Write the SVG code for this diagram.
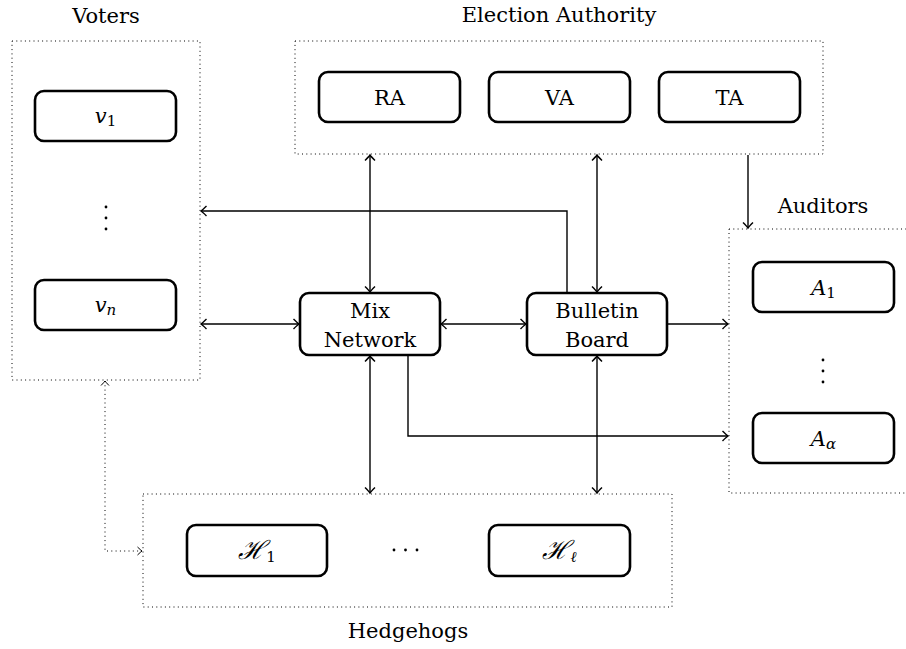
<svg xmlns="http://www.w3.org/2000/svg" width="906" height="649" viewBox="0 0 906 649">
<style>
text{font-family:"DejaVu Serif",serif;font-size:21px;fill:#000;text-anchor:middle}
.m{font-style:italic}
.h{font-style:italic;font-size:26px}
.s{font-size:15px;font-style:normal}
.si{font-size:15px;font-style:italic}
.grp{fill:none;stroke:#000;stroke-width:1;stroke-dasharray:1 3.3}
.node{fill:#fff;stroke:#000;stroke-width:2.6}
.c{fill:none;stroke:#000;stroke-width:1.4}
.cd{fill:none;stroke:#000;stroke-width:1;stroke-dasharray:1 3.3}
</style>
<defs>
<marker id="ah" viewBox="-8 -6 10 12" markerWidth="10" markerHeight="12" refX="0" refY="0" orient="auto-start-reverse" markerUnits="userSpaceOnUse">
<path d="M-5.5,-5 Q-1.5,-1 0,0 Q-1.5,1 -5.5,5" fill="none" stroke="#000" stroke-width="1.4"/>
</marker>
<marker id="ahd" viewBox="-8 -6 10 12" markerWidth="10" markerHeight="12" refX="0" refY="0" orient="auto-start-reverse" markerUnits="userSpaceOnUse">
<path d="M-4.5,-4 Q-1.2,-0.8 0,0 Q-1.2,0.8 -4.5,4" fill="none" stroke="#000" stroke-width="1"/>
</marker>
</defs>
<rect width="906" height="649" fill="#fff"/>
<g id="voters">
<rect class="grp" x="12" y="41" width="188" height="339"/>
<text x="106" y="23">Voters</text>
<circle cx="106" cy="207" r="1.4"/><circle cx="106" cy="218" r="1.4"/><circle cx="106" cy="229" r="1.4"/>
</g>
<g id="v1"><rect class="node" x="35" y="91" width="141" height="50" rx="9"/><text x="105.5" y="123"><tspan class="m">v</tspan><tspan class="s" dy="3">1</tspan></text></g>
<g id="vn"><rect class="node" x="35" y="280" width="141" height="50" rx="9"/><text x="105.5" y="312"><tspan class="m">v</tspan><tspan class="si" dy="3">n</tspan></text></g>

<g id="election-authority">
<rect class="grp" x="295" y="41" width="528" height="113"/>
<text x="559" y="22">Election Authority</text>
</g>
<g id="RA"><rect class="node" x="319" y="72" width="141" height="50" rx="9"/><text x="389.5" y="105">RA</text></g>
<g id="VA"><rect class="node" x="489" y="72" width="141" height="50" rx="9"/><text x="559.5" y="105">VA</text></g>
<g id="TA"><rect class="node" x="659" y="72" width="141" height="50" rx="9"/><text x="729.5" y="105">TA</text></g>

<g id="auditors">
<rect class="grp" x="729" y="229" width="190" height="264"/>
<text x="823" y="213">Auditors</text>
<circle cx="823" cy="360" r="1.4"/><circle cx="823" cy="371" r="1.4"/><circle cx="823" cy="382" r="1.4"/>
</g>
<g id="A1"><rect class="node" x="753" y="262" width="141" height="50" rx="9"/><text x="823.5" y="295"><tspan class="m">A</tspan><tspan class="s" dy="3">1</tspan></text></g>
<g id="Aalpha"><rect class="node" x="753" y="413" width="141" height="50" rx="9"/><text x="823.5" y="446"><tspan class="m">A</tspan><tspan class="si" dy="3">α</tspan></text></g>

<g id="mix-network"><rect class="node" x="300" y="293" width="140" height="62" rx="9"/><text x="370" y="318">Mix</text><text x="370" y="347">Network</text></g>
<g id="bulletin-board"><rect class="node" x="527" y="293" width="140" height="62" rx="9"/><text x="597" y="318">Bulletin</text><text x="597" y="347">Board</text></g>

<g id="hedgehogs">
<rect class="grp" x="143" y="494" width="529" height="113"/>
<text x="408" y="638">Hedgehogs</text>
<circle cx="394" cy="550" r="1.4"/><circle cx="405.5" cy="550" r="1.4"/><circle cx="417" cy="550" r="1.4"/>
</g>
<g id="H1"><rect class="node" x="187" y="525" width="140" height="51" rx="9"/><text x="257" y="559"><tspan class="h">ℋ</tspan><tspan class="s" dy="3">1</tspan></text></g>
<g id="Hl"><rect class="node" x="489" y="525" width="141" height="51" rx="9"/><text x="559.5" y="559"><tspan class="h">ℋ</tspan><tspan class="si" dy="3">ℓ</tspan></text></g>

<g id="connectors">
<line class="c" x1="370" y1="155" x2="370" y2="292" marker-start="url(#ah)" marker-end="url(#ah)"/>
<line class="c" x1="597" y1="155" x2="597" y2="292" marker-start="url(#ah)" marker-end="url(#ah)"/>
<line class="c" x1="748" y1="155" x2="748" y2="228" marker-end="url(#ah)"/>
<polyline class="c" points="567,293 567,211 201,211" marker-end="url(#ah)"/>
<line class="c" x1="201" y1="324" x2="299" y2="324" marker-start="url(#ah)" marker-end="url(#ah)"/>
<line class="c" x1="441" y1="324" x2="526" y2="324" marker-start="url(#ah)" marker-end="url(#ah)"/>
<line class="c" x1="667" y1="324" x2="728" y2="324" marker-end="url(#ah)"/>
<polyline class="c" points="408,355 408,436 728,436" marker-end="url(#ah)"/>
<line class="c" x1="370" y1="356" x2="370" y2="493" marker-start="url(#ah)" marker-end="url(#ah)"/>
<line class="c" x1="597" y1="356" x2="597" y2="493" marker-start="url(#ah)" marker-end="url(#ah)"/>
<polyline class="cd" points="105,381 105,551 142,551" marker-start="url(#ahd)" marker-end="url(#ahd)"/>
</g>
</svg>
